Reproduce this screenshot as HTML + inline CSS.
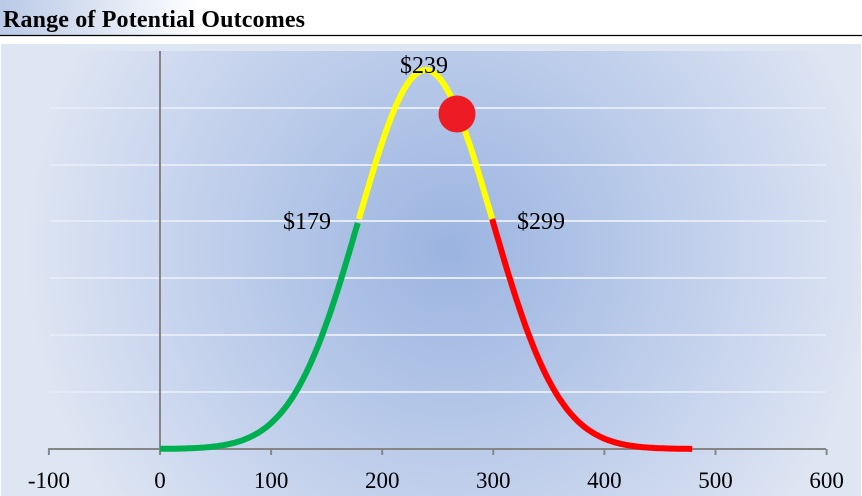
<!DOCTYPE html>
<html><head><meta charset="utf-8"><style>
body{margin:0;width:862px;height:496px;overflow:hidden;background:#fff;font-family:"Liberation Serif",serif}
</style></head><body>
<svg width="862" height="496" xmlns="http://www.w3.org/2000/svg" style="position:absolute;left:0;top:0">
<defs>
<linearGradient id="hd" x1="0" x2="1"><stop offset="0" stop-color="#b9c9e6"/><stop offset="1" stop-color="#fff"/></linearGradient>
<radialGradient id="bg" cx="450" cy="250" r="430" gradientUnits="userSpaceOnUse"><stop offset="0" stop-color="#9bb4e0"/><stop offset="0.6" stop-color="#c3d1ec"/><stop offset="1" stop-color="#dfe6f3"/></radialGradient>
</defs>
<rect x="0" y="0" width="200" height="35" fill="url(#hd)"/>
<text x="3" y="27" font-size="24" font-weight="bold" font-family="Liberation Serif,serif" textLength="302">Range of Potential Outcomes</text>
<line x1="0" y1="35.5" x2="862" y2="35.5" stroke="#000" stroke-width="1.2"/>
<rect x="1" y="44" width="860" height="452" fill="#dfe6f3"/>
<rect x="1" y="51" width="860" height="445" fill="url(#bg)"/>
<g stroke="#e4ebf7" stroke-width="2">
<line x1="50" x2="826" y1="108" y2="108"/><line x1="50" x2="826" y1="165" y2="165"/>
<line x1="50" x2="826" y1="221" y2="221"/><line x1="50" x2="826" y1="278" y2="278"/>
<line x1="50" x2="826" y1="335" y2="335"/><line x1="50" x2="826" y1="392" y2="392"/>
</g>
<line x1="160" y1="51" x2="160" y2="449" stroke="#868686" stroke-width="2"/>
<line x1="48" y1="449" x2="826" y2="449" stroke="#868686" stroke-width="2"/>
<g stroke="#868686" stroke-width="2" id="ticks"></g>
<g font-size="23" text-anchor="middle" id="tl"></g>
<path id="g" fill="none" stroke="#00b050" stroke-width="6"/>
<path id="y" fill="none" stroke="#ffff00" stroke-width="6"/>
<path id="r" fill="none" stroke="#ff0000" stroke-width="6"/>
<circle cx="457" cy="114" r="18.5" fill="#ed1c24"/>
<g font-size="24">
<text x="400" y="73">$239</text>
<text x="283" y="229">$179</text>
<text x="517" y="229">$299</text>
</g>
</svg>
<script>
function X(v){return 160+v*1.111;}
function Y(v){return 449-379*Math.exp(-(v-239)*(v-239)/7200);}
function P(a,b){var s="";for(var v=a;v<=b+0.001;v+=2){s+=(s?"L":"M")+X(v).toFixed(1)+","+Y(v).toFixed(1);}return s;}
document.getElementById("g").setAttribute("d",P(0,179));
document.getElementById("y").setAttribute("d",P(179,299));
document.getElementById("r").setAttribute("d",P(299,480));
var t="",l="";
for(var v=-100;v<=600;v+=100){var x=X(v);t+='<line x1="'+x+'" x2="'+x+'" y1="449" y2="455"/>';l+='<text x="'+x+'" y="488">'+v+'</text>';}
document.getElementById("ticks").innerHTML=t;
document.getElementById("tl").innerHTML=l;
</script>
</body></html>
